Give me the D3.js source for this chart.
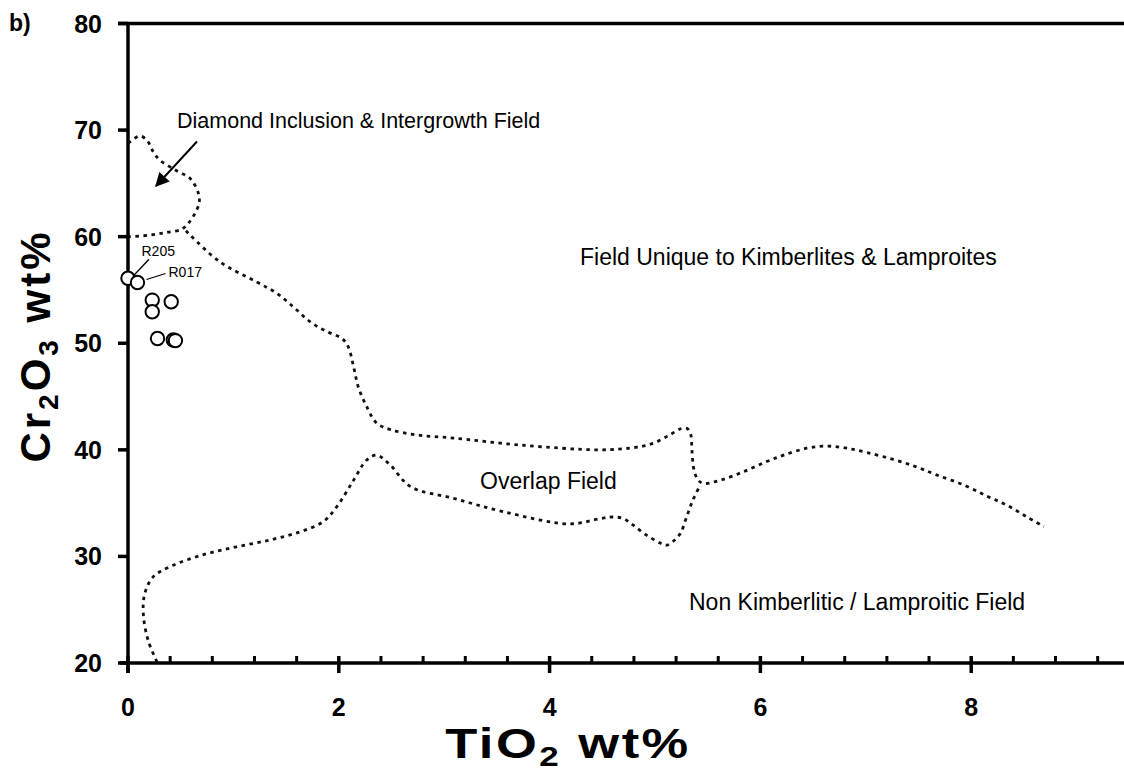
<!DOCTYPE html>
<html>
<head>
<meta charset="utf-8">
<script src="https://cdn.jsdelivr.net/npm/d3@7/dist/d3.min.js"></script>
<style>
  html, body { margin: 0; padding: 0; background: #fff; }
  svg { display: block; font-family: "Liberation Sans", Arial, Helvetica, sans-serif; }
</style>
</head>
<body>
<svg id="chart" width="1124" height="777"></svg>
<script>
// Tick values
const xMajorTicks = [0, 2, 4, 6, 8];
const yTicks = [20, 30, 40, 50, 60, 70, 80];

// Spinel analyses (TiO2 wt%, Cr2O3 wt%)
const sampleTiO2 = [0.00, 0.09, 0.23, 0.23, 0.41, 0.28, 0.43, 0.45];
const sampleCr2O3 = [56.1, 55.7, 54.05, 52.95, 53.9, 50.45, 50.3, 50.25];
const sampleIds = ["R205", "R017", "", "", "", "", "", ""];

// Diamond inclusion & intergrowth field outline
const diamondTiO2 = [0.00, 0.02, 0.11, 0.18, 0.24, 0.30, 0.45, 0.59, 0.667, 0.676, 0.636, 0.572, 0.51, 0.367, 0.209, 0.02, 0.00];
const diamondCr2O3 = [68.8, 68.9, 69.45, 69.05, 67.95, 67.2, 66.25, 65.45, 64.1, 63.2, 62.2, 61.25, 60.7, 60.4, 60.15, 60.0, 60.0];

// Lower limit of the kimberlite / lamproite field
const upperTiO2 = [0.55, 0.59, 0.87, 1.22, 1.41, 1.57, 1.73, 1.885, 2.03, 2.09, 2.14, 2.185, 2.265, 2.36, 2.49, 2.74, 3.09, 3.72, 4.48, 4.79, 4.98, 5.14, 5.25, 5.305, 5.34, 5.35, 5.37, 5.41, 5.46, 5.62, 5.84, 6.06, 6.22, 6.44, 6.63, 6.82, 7.01, 7.26, 7.48, 7.67, 7.93, 8.15, 8.34, 8.53, 8.69];
const upperCr2O3 = [60.55, 60.15, 57.65, 55.75, 54.7, 53.4, 52.0, 51.1, 50.45, 49.65, 47.8, 45.9, 44.05, 42.5, 41.9, 41.4, 41.1, 40.45, 40.0, 40.2, 40.6, 41.4, 42.0, 42.0, 41.4, 40.0, 38.1, 37.15, 36.85, 37.15, 37.95, 38.9, 39.5, 40.15, 40.35, 40.15, 39.75, 39.1, 38.4, 37.65, 36.7, 35.65, 34.8, 33.7, 32.8];

// Upper limit of the non kimberlitic / lamproitic field
const lowerTiO2 = [0.275, 0.19, 0.145, 0.16, 0.24, 0.40, 0.71, 1.03, 1.35, 1.63, 1.85, 1.98, 2.14, 2.265, 2.36, 2.49, 2.68, 3.09, 3.56, 4.19, 4.48, 4.60, 4.70, 4.79, 4.92, 5.05, 5.11, 5.17, 5.24, 5.30, 5.36, 5.43];
const lowerCr2O3 = [20.1, 22.15, 24.65, 26.55, 28.1, 29.05, 30.15, 30.9, 31.55, 32.3, 33.25, 34.65, 37.15, 39.05, 39.5, 38.55, 36.55, 35.45, 34.2, 33.05, 33.55, 33.7, 33.55, 32.95, 32.0, 31.25, 31.05, 31.4, 32.15, 33.7, 35.3, 36.7];

const svg = d3.select("#chart");
const W = 1124;

const x = d3.scaleLinear().domain([0, 10]).range([128, 1182]);
const y = d3.scaleLinear().domain([20, 80]).range([663, 23.5]);

const ink = "#000";

// Field outlines (dotted)
const line = d3.line()
  .x(d => x(d[0]))
  .y(d => y(d[1]))
  .curve(d3.curveCatmullRom.alpha(0.5));

function outline(xs, ys) {
  svg.append("path")
    .attr("d", line(xs.map((v, i) => [v, ys[i]])))
    .attr("fill", "none")
    .attr("stroke", "#111")
    .attr("stroke-width", 2.8)
    .attr("stroke-dasharray", "3.5,4.5");
}
outline(diamondTiO2, diamondCr2O3);
outline(upperTiO2, upperCr2O3);
outline(lowerTiO2, lowerCr2O3);

// Axes
const axisW = 3.5;
// top frame line
svg.append("line")
  .attr("x1", x(0) - 10).attr("x2", W)
  .attr("y1", y(80)).attr("y2", y(80))
  .attr("stroke", ink).attr("stroke-width", axisW);
// y axis
svg.append("line")
  .attr("x1", x(0)).attr("x2", x(0))
  .attr("y1", y(80)).attr("y2", y(20) + 10)
  .attr("stroke", ink).attr("stroke-width", axisW);
// x axis
svg.append("line")
  .attr("x1", x(0) - 8).attr("x2", W)
  .attr("y1", y(20)).attr("y2", y(20))
  .attr("stroke", ink).attr("stroke-width", axisW);

// y ticks & labels
svg.append("g").selectAll("line").data(yTicks).join("line")
  .attr("x1", x(0) - 10).attr("x2", x(0))
  .attr("y1", d => y(d)).attr("y2", d => y(d))
  .attr("stroke", ink).attr("stroke-width", axisW);
svg.append("g").selectAll("text").data(yTicks).join("text")
  .attr("x", 102).attr("y", d => y(d) + 9)
  .attr("text-anchor", "end")
  .attr("font-size", 25).attr("font-weight", "bold")
  .text(d => d);

// x ticks
const xMinor = d3.range(0, 24).map(i => +(i * 0.4).toFixed(1)).filter(v => Math.abs(v / 2 - Math.round(v / 2)) > 1e-6);
svg.append("g").selectAll("line").data(xMinor).join("line")
  .attr("x1", d => x(d)).attr("x2", d => x(d))
  .attr("y1", y(20) - 7).attr("y2", y(20))
  .attr("stroke", ink).attr("stroke-width", 3);
svg.append("g").selectAll("line").data(xMajorTicks).join("line")
  .attr("x1", d => x(d)).attr("x2", d => x(d))
  .attr("y1", y(20) - 7).attr("y2", y(20) + 10)
  .attr("stroke", ink).attr("stroke-width", axisW);
svg.append("g").selectAll("text").data(xMajorTicks).join("text")
  .attr("x", d => x(d)).attr("y", 716)
  .attr("text-anchor", "middle")
  .attr("font-size", 25).attr("font-weight", "bold")
  .text(d => d);

// Axis titles
const titleSize = 42, subSize = 28;
const xt = svg.append("text")
  .attr("transform", "translate(568,758) scale(1.25,1)")
  .attr("text-anchor", "middle")
  .attr("letter-spacing", 2)
  .attr("font-size", titleSize).attr("font-weight", "bold");
xt.append("tspan").text("TiO");
xt.append("tspan").attr("font-size", subSize).attr("dy", 8).text("2");
xt.append("tspan").attr("dy", -8).text(" wt%");

const yt = svg.append("text")
  .attr("transform", "translate(50,346) rotate(-90)")
  .attr("text-anchor", "middle")
  .attr("letter-spacing", 3)
  .attr("font-size", titleSize).attr("font-weight", "bold");
yt.append("tspan").text("Cr");
yt.append("tspan").attr("font-size", subSize).attr("dy", 8).text("2");
yt.append("tspan").attr("dy", -8).text("O");
yt.append("tspan").attr("font-size", subSize).attr("dy", 8).text("3");
yt.append("tspan").attr("dy", -8).text(" wt%");

// Panel letter
svg.append("text").attr("x", 9).attr("y", 31)
  .attr("font-size", 23).attr("font-weight", "bold").text("b)");

// Field labels
svg.append("text").attr("x", 177).attr("y", 128).attr("font-size", 21.5)
  .text("Diamond Inclusion & Intergrowth Field");
svg.append("text").attr("x", 580).attr("y", 265).attr("font-size", 23)
  .text("Field Unique to Kimberlites & Lamproites");
svg.append("text").attr("x", 480).attr("y", 489).attr("font-size", 23)
  .text("Overlap Field");
svg.append("text").attr("x", 689).attr("y", 610).attr("font-size", 23)
  .text("Non Kimberlitic / Lamproitic Field");

// Arrow to the diamond field
svg.append("defs").append("marker")
  .attr("id", "head").attr("viewBox", "0 0 10 10")
  .attr("refX", 9).attr("refY", 5)
  .attr("markerWidth", 8.5).attr("markerHeight", 7)
  .attr("markerUnits", "strokeWidth")
  .attr("orient", "auto")
  .append("path").attr("d", "M0,0 L10,5 L0,10 Z").attr("fill", ink);
svg.append("line")
  .attr("x1", 197).attr("y1", 141.5).attr("x2", 156).attr("y2", 186)
  .attr("stroke", ink).attr("stroke-width", 2)
  .attr("marker-end", "url(#head)");

// Samples
const pts = sampleTiO2.map((v, i) => ({ t: v, c: sampleCr2O3[i], id: sampleIds[i] }));
svg.append("g").selectAll("circle").data(pts).join("circle")
  .attr("cx", d => x(d.t)).attr("cy", d => y(d.c))
  .attr("r", 6.7)
  .attr("fill", "#fff").attr("stroke", ink).attr("stroke-width", 2);

// Sample labels with leader lines
const lab = [
  { id: "R205", dx1: 5, dy1: -2, dx2: 21, dy2: -19, tx: 13.5, ty: -22 },
  { id: "R017", dx1: 9, dy1: -3, dx2: 28, dy2: -9, tx: 31, ty: -5 }
];
lab.forEach(l => {
  const p = pts.find(d => d.id === l.id);
  const px = x(p.t), py = y(p.c);
  svg.append("line")
    .attr("x1", px + l.dx1).attr("y1", py + l.dy1)
    .attr("x2", px + l.dx2).attr("y2", py + l.dy2)
    .attr("stroke", ink).attr("stroke-width", 1.3);
  svg.append("text").attr("x", px + l.tx).attr("y", py + l.ty)
    .attr("font-size", 14).text(l.id);
});
</script>
</body>
</html>
